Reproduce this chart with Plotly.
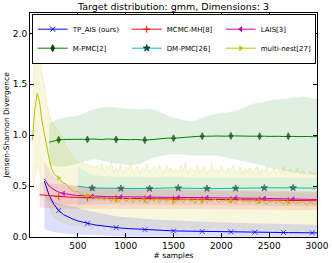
import plotly.graph_objects as go

# ---------------- data ----------------
SAMPLES = list(range(100, 3001, 50))          # grid for smooth curves (59 pts)
MN_SAMPLES = list(range(25, 3001, 25))        # grid for multi-nest (120 pts)
X_TICKS = [500, 1000, 1500, 2000, 2500, 3000]
Y_TICKS = [0.0, 0.5, 1.0, 1.5, 2.0]

tp_ais = [None, 0.55, 0.41, 0.32, 0.26, 0.22, 0.195, 0.175, 0.158, 0.145, 0.133, 0.124, 0.116, 0.109, 0.103,
          0.097, 0.092, 0.088, 0.084, 0.081, 0.078, 0.075, 0.072, 0.070, 0.068, 0.066, 0.064, 0.062, 0.060,
          0.059, 0.058, 0.057, 0.056, 0.055, 0.054, 0.053, 0.052, 0.052, 0.051, 0.050, 0.050, 0.049, 0.048,
          0.048, 0.047, 0.047, 0.046, 0.046, 0.045, 0.045, 0.044, 0.044, 0.043, 0.043, 0.042, 0.042, 0.041,
          0.041, 0.040]
tp_ais_hi = [None, 0.42, 0.38, 0.35, 0.33, 0.32, 0.31, 0.30, 0.29, 0.27, 0.26, 0.25, 0.24, 0.23, 0.22, 0.21,
             0.205, 0.20, 0.195,
             0.19, 0.185, 0.18, 0.178, 0.175, 0.172, 0.17, 0.167, 0.165, 0.162,
             0.16, 0.158, 0.156, 0.154, 0.152, 0.15, 0.148, 0.146, 0.145, 0.144,
             0.142, 0.14, 0.139, 0.138, 0.136, 0.135, 0.134, 0.133, 0.132, 0.131,
             0.13, 0.129, 0.128, 0.127, 0.126, 0.125, 0.124, 0.123, 0.122, 0.121]
tp_ais_lo = [None, 0.08, 0.06, 0.05, 0.04, 0.035, 0.03, 0.025, 0.02,
             0.02, 0.018, 0.016, 0.015, 0.014, 0.012, 0.01, 0.01, 0.008, 0.006,
             0.005, 0.005, 0.005, 0.005, 0.005, 0.005, 0.005, 0.005, 0.005, 0.005,
             0.0, 0.0, 0.0, 0.0, 0.0, 0.0, 0.0, 0.0, 0.0, 0.0,
             0.0, 0.0, 0.0, 0.0, 0.0, 0.0, 0.0, 0.0, 0.0, 0.0,
             0.0, 0.0, 0.0, 0.0, 0.0, 0.0, 0.0, 0.0, 0.0, 0.0]

mcmc = [0.415, 0.41, 0.405, 0.40, 0.397, 0.394, 0.392, 0.39, 0.388, 0.386, 0.385, 0.384, 0.383, 0.382, 0.381,
        0.380, 0.380, 0.379, 0.378,
        0.378, 0.377, 0.377, 0.376, 0.376, 0.375, 0.375, 0.374, 0.374, 0.373,
        0.373, 0.372, 0.372, 0.371, 0.371, 0.370, 0.370, 0.369, 0.369, 0.368,
        0.368, 0.367, 0.367, 0.366, 0.366, 0.365, 0.365, 0.364, 0.363, 0.363,
        0.362, 0.362, 0.361, 0.360, 0.360, 0.359, 0.358, 0.357, 0.356, 0.355]
mcmc_sd = [0.125, 0.123, 0.121, 0.12, 0.119, 0.118, 0.117, 0.116, 0.115,
           0.113, 0.112, 0.11, 0.11, 0.108, 0.107, 0.106, 0.105, 0.105, 0.104,
           0.104, 0.103, 0.103, 0.102, 0.102, 0.101, 0.101, 0.100, 0.100, 0.100,
           0.099, 0.099, 0.099, 0.098, 0.098, 0.098, 0.097, 0.097, 0.097, 0.097,
           0.096, 0.096, 0.096, 0.096, 0.095, 0.095, 0.095, 0.095, 0.095, 0.094,
           0.094, 0.094, 0.094, 0.094, 0.093, 0.093, 0.093, 0.093, 0.093, 0.092]

lais = [None, 0.57, 0.50, 0.465, 0.44, 0.428, 0.418, 0.412, 0.408, 0.405, 0.402, 0.40, 0.399, 0.398, 0.397,
        0.396, 0.395, 0.394, 0.393,
        0.393, 0.392, 0.392, 0.391, 0.391, 0.390, 0.390, 0.389, 0.389, 0.389,
        0.388, 0.388, 0.388, 0.387, 0.387, 0.387, 0.386, 0.386, 0.385, 0.385,
        0.384, 0.384, 0.383, 0.383, 0.382, 0.381, 0.381, 0.380, 0.379, 0.378,
        0.377, 0.376, 0.375, 0.374, 0.373, 0.372, 0.371, 0.370, 0.369, 0.368]
lais_sd = [None, 0.17, 0.15, 0.13, 0.12, 0.11, 0.10, 0.095, 0.09, 0.088, 0.086, 0.084, 0.082, 0.080, 0.079,
           0.078, 0.077, 0.076, 0.075,
           0.075, 0.075, 0.074, 0.074, 0.074, 0.074, 0.073, 0.073, 0.073, 0.073,
           0.072, 0.072, 0.072, 0.072, 0.072, 0.071, 0.071, 0.071, 0.071, 0.071,
           0.070, 0.070, 0.070, 0.070, 0.070, 0.070, 0.069, 0.069, 0.069, 0.069,
           0.069, 0.069, 0.068, 0.068, 0.068, 0.068, 0.068, 0.068, 0.068, 0.068]

m_pmc = [None, None,
         0.93, 0.945, 0.955, 0.958, 0.960, 0.955, 0.962, 0.960, 0.958, 0.963, 0.960, 0.957, 0.962, 0.960, 0.958,
         0.962, 0.960,
         0.956, 0.958, 0.954, 0.952, 0.955, 0.960, 0.963, 0.968, 0.972, 0.970,
         0.975, 0.978, 0.982, 0.985, 0.988, 0.990, 0.987, 0.990, 0.992, 0.989,
         0.990, 0.993, 0.990, 0.988, 0.991, 0.990, 0.992, 0.989, 0.990, 0.988,
         0.991, 0.989, 0.987, 0.990, 0.988, 0.986, 0.989, 0.987, 0.985, 0.986]
m_pmc_hi = [None, None,
            1.11, 1.14, 1.16, 1.17, 1.18, 1.18, 1.19, 1.21, 1.23, 1.25, 1.26, 1.27, 1.28, 1.28, 1.27, 1.27, 1.26,
            1.26, 1.26, 1.25, 1.26, 1.26, 1.25, 1.23, 1.21, 1.19, 1.17,
            1.16, 1.15, 1.14, 1.14, 1.15, 1.17, 1.19, 1.20, 1.21, 1.22,
            1.22, 1.23, 1.24, 1.26, 1.28, 1.30, 1.31, 1.32, 1.33, 1.34,
            1.35, 1.35, 1.36, 1.36, 1.37, 1.37, 1.38, 1.37, 1.36, 1.36]
m_pmc_lo = [None, None,
            0.72, 0.70, 0.69, 0.69, 0.70, 0.71, 0.72, 0.74, 0.75, 0.76, 0.76, 0.75, 0.74, 0.73, 0.72, 0.72, 0.71,
            0.71, 0.71, 0.72, 0.74, 0.76, 0.78, 0.79, 0.80, 0.81, 0.81,
            0.81, 0.81, 0.80, 0.80, 0.80, 0.80, 0.80, 0.80, 0.80, 0.79,
            0.78, 0.77, 0.76, 0.75, 0.74, 0.73, 0.72, 0.71, 0.70, 0.68,
            0.67, 0.66, 0.65, 0.64, 0.63, 0.63, 0.62, 0.62, 0.61, 0.61]

dm_pmc = [None] * 8 + [
    0.50, 0.49, 0.485, 0.48, 0.478, 0.477, 0.478, 0.479, 0.478, 0.477, 0.476,
    0.476, 0.475, 0.475, 0.475, 0.476, 0.478, 0.481, 0.484, 0.485, 0.483,
    0.481, 0.479, 0.478, 0.478, 0.478, 0.477, 0.476, 0.475, 0.475, 0.475,
    0.476, 0.477, 0.478, 0.478, 0.479, 0.479, 0.480, 0.481, 0.482, 0.483,
    0.484, 0.485, 0.485, 0.484, 0.483, 0.482, 0.481, 0.481, 0.480, 0.480]
dm_pmc_sd = [None] * 8 + [
    0.20, 0.17, 0.15, 0.13, 0.125, 0.12, 0.118, 0.116, 0.115, 0.114, 0.113,
    0.112, 0.112, 0.111, 0.111, 0.110, 0.110, 0.110, 0.109, 0.109, 0.109,
    0.108, 0.108, 0.108, 0.107, 0.107, 0.107, 0.106, 0.106, 0.106, 0.105,
    0.105, 0.105, 0.104, 0.104, 0.104, 0.103, 0.103, 0.103, 0.102, 0.102,
    0.102, 0.101, 0.101, 0.101, 0.100, 0.100, 0.100, 0.100, 0.100, 0.100]

multi_nest = [
    0.95, 1.25, 1.41, 1.33, 1.14, 1.01, 0.90, 0.77, 0.67, 0.62, 0.60, 0.58, 0.55, 0.53, 0.52, 0.49, 0.47, 0.45,
    0.44, 0.45, 0.42, 0.43, 0.40, 0.41, 0.42, 0.39, 0.40, 0.38,
    0.37, 0.39, 0.36, 0.38, 0.37, 0.35, 0.38, 0.36, 0.34, 0.37, 0.38, 0.35, 0.36, 0.39, 0.34, 0.36, 0.37, 0.35,
    0.38, 0.36, 0.33, 0.36, 0.37, 0.35, 0.38, 0.34, 0.36, 0.37, 0.35, 0.36, 0.38, 0.34,
    0.36, 0.35, 0.37, 0.34, 0.36, 0.38, 0.35, 0.36, 0.33, 0.37, 0.36, 0.35, 0.37, 0.34, 0.36, 0.35, 0.38, 0.36,
    0.34, 0.36, 0.35, 0.37, 0.34, 0.36, 0.35, 0.33, 0.36, 0.37, 0.34, 0.36, 0.35, 0.34,
    0.36, 0.35, 0.33, 0.35, 0.36, 0.34, 0.32, 0.35, 0.34, 0.36, 0.33, 0.35, 0.34, 0.32, 0.35, 0.34, 0.33, 0.35,
    0.32, 0.34, 0.33, 0.35, 0.33, 0.32, 0.34, 0.33, 0.32, 0.33]
multi_nest_hi = [
    1.50, 1.72, 1.82, 1.75, 1.60, 1.48, 1.30, 1.20, 1.14, 1.10, 1.07, 1.04, 1.00, 0.96, 0.90, 0.86, 0.82, 0.78,
    0.76, 0.74, 0.72, 0.75, 0.70, 0.72, 0.69, 0.71, 0.68, 0.70,
    0.66, 0.72, 0.64, 0.70, 0.67, 0.74, 0.63, 0.68, 0.65, 0.71, 0.62, 0.69, 0.66, 0.73, 0.64, 0.67, 0.70, 0.62,
    0.68, 0.65, 0.72, 0.63, 0.67, 0.69, 0.64, 0.70, 0.66, 0.63, 0.71, 0.65, 0.68, 0.64,
    0.67, 0.63, 0.70, 0.65, 0.73, 0.62, 0.68, 0.66, 0.64, 0.71, 0.63, 0.67, 0.69, 0.62, 0.66, 0.72, 0.64, 0.67,
    0.63, 0.70, 0.65, 0.62, 0.68, 0.66, 0.71, 0.63, 0.65, 0.69, 0.62, 0.67, 0.64, 0.68,
    0.63, 0.66, 0.70, 0.62, 0.67, 0.64, 0.69, 0.61, 0.65, 0.68, 0.62, 0.66, 0.63, 0.70, 0.61, 0.65, 0.67, 0.62,
    0.64, 0.68, 0.61, 0.66, 0.63, 0.60, 0.65, 0.62, 0.64, 0.61]
multi_nest_lo = [
    0.45, 0.60, 0.70, 0.65, 0.52, 0.45, 0.38, 0.30, 0.24, 0.20, 0.18, 0.17, 0.15, 0.14, 0.14, 0.13, 0.12, 0.12,
    0.11, 0.13, 0.10, 0.12, 0.09, 0.11, 0.12, 0.08, 0.11, 0.10,
    0.09, 0.12, 0.07, 0.11, 0.10, 0.06, 0.12, 0.09, 0.08, 0.11, 0.13, 0.07, 0.10, 0.12, 0.06, 0.09, 0.11, 0.08,
    0.12, 0.10, 0.05, 0.09, 0.11, 0.08, 0.12, 0.07, 0.10, 0.11, 0.08, 0.09, 0.12, 0.07,
    0.10, 0.08, 0.11, 0.06, 0.09, 0.12, 0.08, 0.10, 0.05, 0.11, 0.09, 0.08, 0.11, 0.06, 0.10, 0.08, 0.12, 0.09,
    0.07, 0.10, 0.08, 0.11, 0.06, 0.09, 0.08, 0.05, 0.10, 0.11, 0.07, 0.09, 0.08, 0.06,
    0.09, 0.08, 0.05, 0.08, 0.10, 0.07, 0.04, 0.09, 0.07, 0.10, 0.05, 0.08, 0.07, 0.04, 0.09, 0.07, 0.06, 0.08,
    0.04, 0.07, 0.06, 0.09, 0.06, 0.04, 0.08, 0.06, 0.05, 0.06]

# sample counts where markers are drawn
TP_AIS_MARKS = [300, 600, 900, 1200, 1500, 1800, 2100, 2350, 2650, 2950]
MCMC_MARKS = [300, 600, 900, 1200, 1500, 1800, 2100, 2400, 2700]
LAIS_MARKS = [350, 650, 950, 1250, 1550, 1850, 2150, 2450, 2750]
M_PMC_MARKS = [300, 600, 900, 1200, 1500, 1800, 2100, 2400, 2700]
DM_PMC_MARKS = [650, 950, 1250, 1550, 1850, 2150, 2450, 2750]
MN_MARKS = [300, 600, 900, 1200, 1500, 1800, 2100, 2400, 2700]

# ---------------- helpers ----------------
def rgba(rgb, a):
    return "rgba(%d,%d,%d,%.3f)" % (rgb[0], rgb[1], rgb[2], a)


def keep(xs, *cols):
    idx = [i for i, v in enumerate(cols[0]) if v is not None]
    return [xs[i] for i in idx], [[c[i] for i in idx] for c in cols]


fig = go.Figure()

series = [
    dict(name="TP_AIS (ours)", xs=SAMPLES, m=tp_ais, hi=tp_ais_hi, lo=tp_ais_lo, rgb=(0, 0, 255),
         mc="rgb(0,0,255)", sym="x-thin-open", ms=5, marks=TP_AIS_MARKS, rank=1, ba=0.13, ea=0.0),
    dict(name="MCMC-MH[8]", xs=SAMPLES, m=mcmc, sd=mcmc_sd, rgb=(255, 0, 0), mc="rgb(255,0,0)",
         sym="cross-thin-open", ms=5, marks=MCMC_MARKS, rank=2, ba=0.11, ea=0.0),
    dict(name="LAIS[3]", xs=SAMPLES, m=lais, sd=lais_sd, rgb=(191, 0, 191), mc="rgb(191,0,191)",
         sym="triangle-left", ms=4, marks=LAIS_MARKS, rank=3, ba=0.11, ea=0.0),
    dict(name="M-PMC[2]", xs=SAMPLES, m=m_pmc, hi=m_pmc_hi, lo=m_pmc_lo, rgb=(0, 128, 0), mc="rgb(0,70,0)",
         sym="diamond-tall", ms=5, marks=M_PMC_MARKS, rank=4, ba=0.12, ea=0.0),
    dict(name="DM-PMC[26]", xs=SAMPLES, m=dm_pmc, sd=dm_pmc_sd, rgb=(0, 191, 191), mc="rgb(20,70,70)",
         sym="star", ms=5, marks=DM_PMC_MARKS, rank=5, ba=0.11, ea=0.0),
    dict(name="multi-nest[27]", xs=MN_SAMPLES, m=multi_nest, hi=multi_nest_hi, lo=multi_nest_lo,
         rgb=(191, 191, 0), mc="rgb(191,191,0)", sym="triangle-right", ms=4, marks=MN_MARKS, rank=6,
         ba=0.13, ea=0.22),
]

# bands first
for s in series:
    if "sd" in s:
        xs, (m, sd) = keep(s["xs"], s["m"], s["sd"])
        hi = [a + b for a, b in zip(m, sd)]
        lo = [max(0.0, a - b) for a, b in zip(m, sd)]
    else:
        xs, (m, hi, lo) = keep(s["xs"], s["m"], s["hi"], s["lo"])
    fig.add_trace(go.Scatter(
        x=xs + xs[::-1], y=hi + lo[::-1], fill="toself",
        fillcolor=rgba(s["rgb"], s["ba"]),
        line=dict(color=rgba(s["rgb"], s["ea"]), width=0.8 if s["ea"] > 0 else 0),
        mode="lines", hoverinfo="skip", showlegend=False))

# mean lines
for s in series:
    xs, (m,) = keep(s["xs"], s["m"])
    sizes = [s["ms"] if x in s["marks"] else 0 for x in xs]
    fig.add_trace(go.Scatter(
        x=xs, y=m, mode="lines+markers", showlegend=False,
        line=dict(color=rgba(s["rgb"], 1), width=1.0),
        marker=dict(symbol=s["sym"], size=sizes, color=s["mc"],
                    line=dict(color=s["mc"], width=1.0))))
    # legend entry
    fig.add_trace(go.Scatter(
        x=[None], y=[None], mode="lines+markers", name=s["name"], legendrank=s["rank"],
        line=dict(color=rgba(s["rgb"], 1), width=1.0),
        marker=dict(symbol=s["sym"], size=s["ms"], color=s["mc"], line=dict(color=s["mc"], width=1.0))))

FONT = "DejaVu Sans"
fig.update_layout(
    width=332, height=263, template="none",
    paper_bgcolor="white", plot_bgcolor="white",
    margin=dict(l=30, r=15, t=13, b=26),
    font=dict(family=FONT, size=9, color="black"),
    title=dict(text="Target distribution: gmm, Dimensions: 3", x=0.5, xref="paper",
               y=1 - 7 / 263, yref="container", yanchor="middle", xanchor="center",
               font=dict(size=9.5, family=FONT)),
    showlegend=True,
    legend=dict(orientation="h", x=0.006, y=0.997, xanchor="left", yanchor="top",
                bgcolor="white", bordercolor="black", borderwidth=1,
                font=dict(size=7, family=FONT), entrywidth=49, entrywidthmode="pixels",
                itemwidth=30, tracegroupgap=0),
    xaxis=dict(range=[0, 3000], tickvals=X_TICKS, ticks="inside", ticklen=4, tickwidth=1,
               tickcolor="black", showline=True, linecolor="black", linewidth=1, mirror="ticks",
               showgrid=False, zeroline=False, tickfont=dict(size=9),
               title=dict(text="# samples", font=dict(size=7.5), standoff=2)),
    yaxis=dict(range=[0, 2.2], tickvals=Y_TICKS, tickformat=".1f", ticks="inside", ticklen=4, tickwidth=1,
               tickcolor="black", showline=True, linecolor="black", linewidth=1, mirror="ticks",
               showgrid=False, zeroline=False, tickfont=dict(size=9),
               title=dict(text="Jensen-Shannon Divergence", font=dict(size=7.5), standoff=2)),
)

fig.write_html("out.html", config={"displayModeBar": False},
               post_script="document.body.style.margin='0px';")
